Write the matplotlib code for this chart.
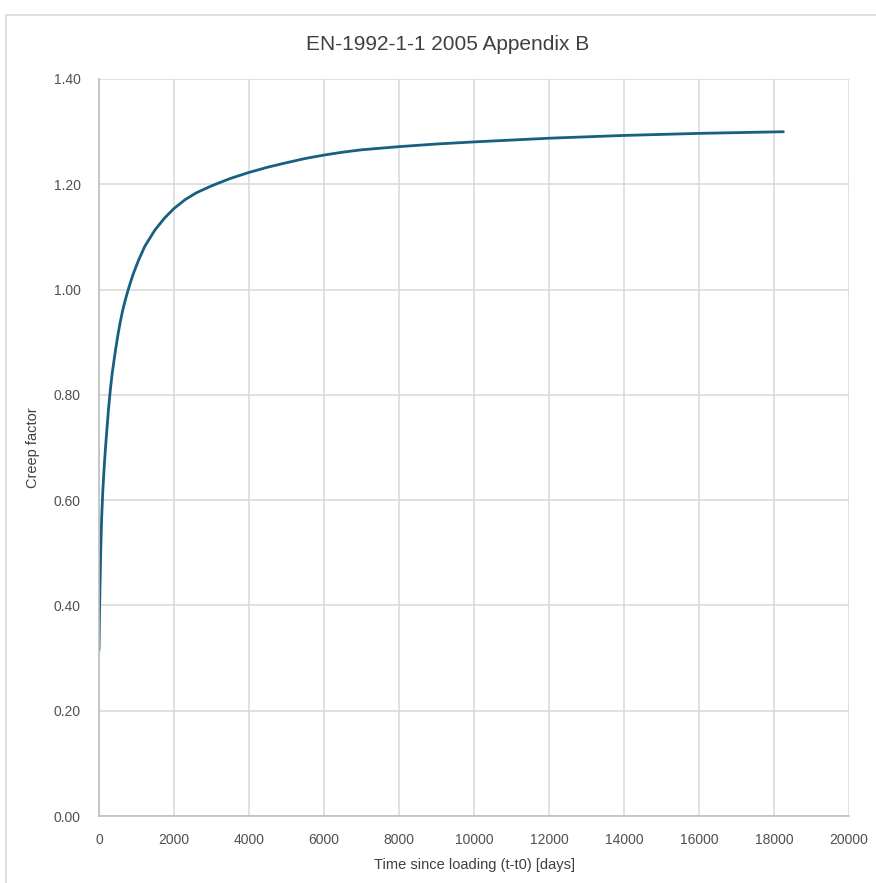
import matplotlib
matplotlib.use("Agg")
import matplotlib.pyplot as plt
from matplotlib.patches import Rectangle

# creep factor curve
days = [0, 10, 25, 45, 70, 100, 140, 180, 250, 300, 350, 440, 500, 560,
        630, 700, 780, 850, 915, 1050, 1220, 1490, 1750, 2000, 2300, 2600,
        3000, 3500, 4000, 4500, 5000, 5500, 6000, 6500, 7000, 8000, 9000,
        10000, 12000, 14000, 16000, 18000, 18250]
creep = [0.315, 0.37, 0.43, 0.50, 0.565, 0.615, 0.665, 0.706, 0.770, 0.808,
         0.840, 0.885, 0.912, 0.936, 0.960, 0.980, 1.000, 1.016, 1.030,
         1.055, 1.082, 1.113, 1.136, 1.154, 1.171, 1.184, 1.197, 1.211,
         1.2225, 1.2325, 1.2410, 1.2490, 1.2555, 1.2610, 1.2655, 1.2715,
         1.2765, 1.2805, 1.2875, 1.2928, 1.2967, 1.2995, 1.2998]

xticks = list(range(0, 20001, 2000))
yticks = [0.0, 0.2, 0.4, 0.6, 0.8, 1.0, 1.2, 1.4]

plt.rcParams['font.family'] = ['Liberation Sans', 'DejaVu Sans']
grid_col = '#d9d9d9'
text_col = '#505050'

fig = plt.figure(figsize=(8.76, 8.83), dpi=100)
W, H = 876, 883

# light chart border like the spreadsheet frame
fig.patches.append(Rectangle((6 / W, -0.05), 1.0, 1 - 15 / H + 0.05,
                             transform=fig.transFigure, fill=False,
                             edgecolor='#dcdcdc', linewidth=1.2))

ax = fig.add_axes([99 / W, (H - 816) / H, 750 / W, 737 / H])
ax.plot(days, creep, color='#195f80', linewidth=2.0,
        solid_capstyle='round', solid_joinstyle='round')

ax.set_xlim(0, 20000)
ax.set_ylim(0, 1.4)
ax.set_xticks(xticks)
ax.set_xticklabels([str(t) for t in xticks])
ax.set_yticks(yticks)
ax.set_yticklabels(['%.2f' % v for v in yticks])
ax.grid(True, color=grid_col, linewidth=1.1)
ax.set_axisbelow(True)
for side in ['top', 'right']:
    ax.spines[side].set_visible(False)
for side in ['left', 'bottom']:
    ax.spines[side].set_color('#bfbfbf')
    ax.spines[side].set_linewidth(1.2)
ax.tick_params(length=0, labelsize=10, labelcolor=text_col)
ax.tick_params(axis='x', pad=12)
ax.tick_params(axis='y', pad=13)

ax.set_xlabel('Time since loading (t-t0) [days]', fontsize=10.5,
              color='#404040', labelpad=8)
ax.set_ylabel('Creep factor', fontsize=10.5, color='#404040', labelpad=10)

fig.text(448 / W, 1 - 45 / H, 'EN-1992-1-1 2005 Appendix B',
         ha='center', va='center', fontsize=15, color='#404040',
         family=['Liberation Sans Narrow', 'Liberation Sans'])

fig.savefig('out.png', dpi=100)
